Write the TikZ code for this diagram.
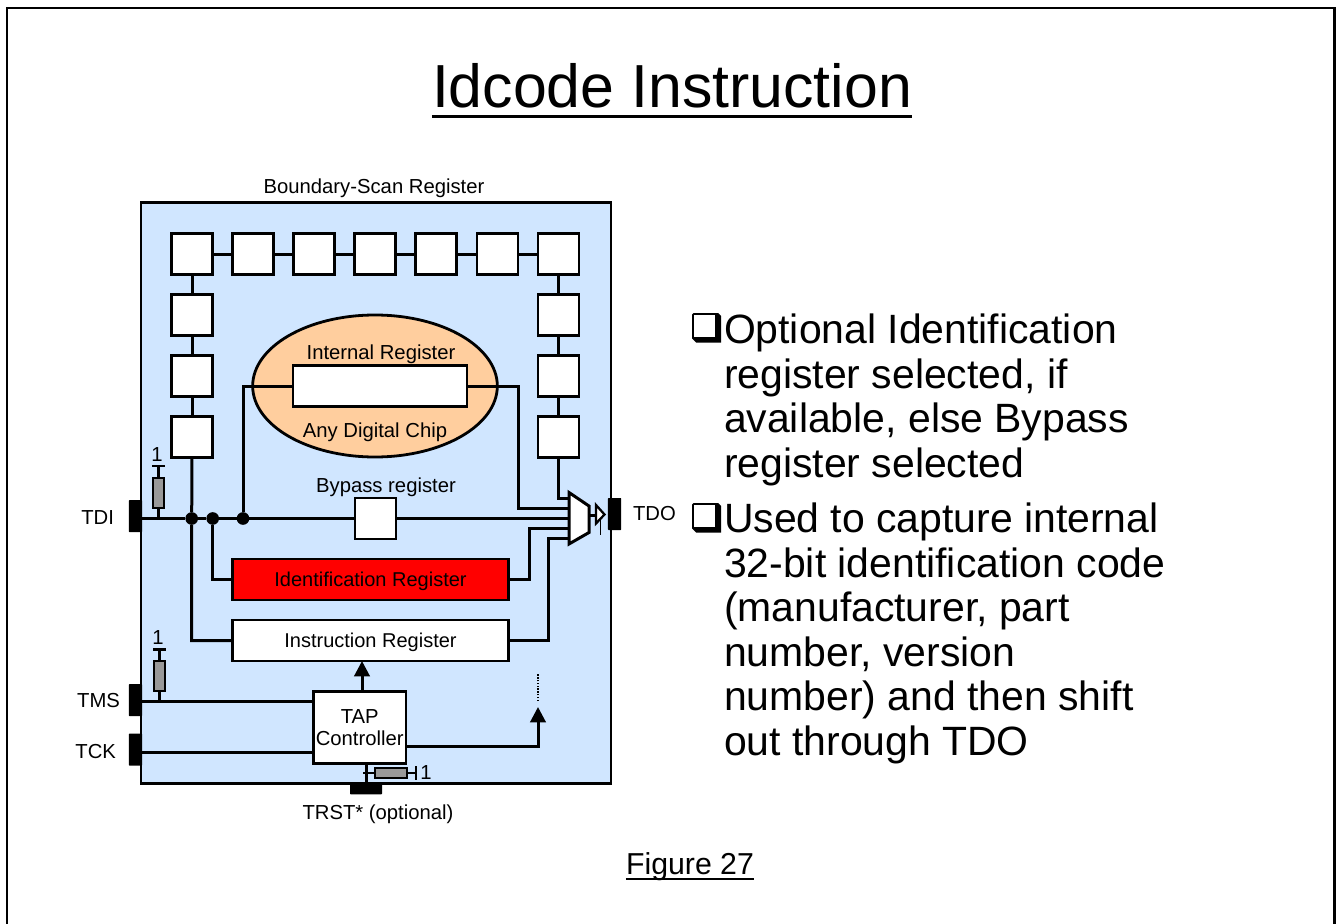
\documentclass[tikz,border=0pt]{standalone}
\usepackage{fontspec}
\setmainfont{Liberation Sans}
\usetikzlibrary{arrows.meta,shapes.geometric}
\definecolor{chipblue}{HTML}{D0E6FF}
\definecolor{chiporange}{HTML}{FFCE9E}
\definecolor{resgray}{HTML}{999999}
\tikzset{
  x=0.75pt,y=-0.75pt,
  wire/.style={line width=2.25pt,line join=miter},
  thin wire/.style={line width=1.7pt},
  cell/.style={draw,line width=2.1pt,fill=white,minimum width=30.75pt,minimum height=30.75pt,inner sep=0pt,outer sep=0pt},
  wide/.style={draw,line width=2.1pt,minimum width=207pt,minimum height=30.75pt,inner sep=0pt,outer sep=0pt,font=\fontsize{15}{18}\selectfont},
  pad/.style={fill=black,inner sep=0pt,outer sep=0pt,rounded corners=0.5pt},
  res/.style={draw,line width=1.6pt,fill=resgray,inner sep=0pt,outer sep=0pt},
  dot/.style={circle,fill=black,minimum size=9.5pt,inner sep=0pt,outer sep=0pt},
  small/.style={font=\fontsize{15.2}{18}\selectfont,inner sep=0pt,outer sep=0pt},
  bullet/.style={anchor=north west,inner sep=0pt,outer sep=0pt,align=left,font=\fontsize{30.7}{33.4}\selectfont},
  arrowed/.style={line width=2.25pt,-{Triangle[length=11.5pt,width=11.5pt]}},
  pics/shadowbox/.style={code={
    \fill[black] (0,1.5) -- (1.5,0) -- (26,0) -- (29,3) -- (29,29.5) -- (4,29.5) -- (0,25.5) -- cycle;
    \fill[white] (2,2) rectangle (23,24);
  }},
}
\newcommand{\boxtext}[1]{\smash{\raisebox{-5pt}{#1}}}
\begin{document}
\begin{tikzpicture}
\useasboundingbox (0,0) rectangle (1336,924);
% slide frame
\coordinate (fbl) at (7,924); \coordinate (ftl) at (7,8);
\coordinate (ftr) at (1334.5,8); \coordinate (fbr) at (1334.5,924);
\draw[line width=2.2pt] (fbl) -- (ftl) -- (ftr) -- (fbr);
% title
\node[anchor=base,inner sep=0pt,font=\fontsize{45.6}{50}\selectfont] (title) at (672,108) {Idcode Instruction};
\draw[line width=2.2pt] ([yshift=-6.5pt]title.base west) -- ([yshift=-6.5pt]title.base east);
% chip body
\node[draw,line width=2.1pt,fill=chipblue,minimum width=352.5pt,minimum height=435.75pt,inner sep=0pt,outer sep=0pt,anchor=north west] (chip) at (141,202.5) {};
\node[small,anchor=base] (bsr) at (374,193) {Boundary-Scan Register};
% boundary cells
\foreach \n/\x/\y in {a/192/254,b/253/254,c/314/254,d/375/254,e/436/254,f/497.5/254,g/558.5/254,
  h/192/315,i/192/376,j/192/437,k/558.5/315,l/558.5/376,m/558.5/437}
  \node[cell] (\n) at (\x,\y) {};
\draw[wire] (a)--(b) (b)--(c) (c)--(d) (d)--(e) (e)--(f) (f)--(g);
\draw[wire] (a)--(h) (h)--(i) (i)--(j) (g)--(k) (k)--(l) (l)--(m);
% internal chip
\node[draw,line width=2.1pt,fill=chiporange,ellipse,minimum width=183.5pt,minimum height=106.5pt,inner sep=0pt,outer sep=0pt] (chipell) at (375,386) {};
\node[draw,line width=2.1pt,fill=white,minimum width=130.5pt,minimum height=30.75pt,inner sep=0pt,outer sep=0pt] (ireg) at (380,386) {};
\node[small,anchor=base] (il) at (381,359) {Internal Register};
\node[small,anchor=base] (ac) at (375,437) {Any Digital Chip};
% bypass, id, instruction
\node[cell] (byp) at (375.5,518.5) {};
\node[small,anchor=base] (bl) at (386,492) {Bypass register};
\node[wide,fill=red] (idr) at (370.5,579.5) {\boxtext{Identification Register}};
\node[wide,fill=white] (inr) at (370.5,640.5) {\boxtext{Instruction Register}};
\node[draw,line width=2.1pt,fill=white,minimum width=69.5pt,minimum height=53.5pt,inner sep=0pt,outer sep=0pt,align=center,font=\fontsize{15.2}{20}\selectfont] (tap) at (359.75,727.5) {TAP\\[-3.5pt]Controller};
% pads
\node[pad,minimum width=10pt,minimum height=24pt] (tdi) at (135.5,516) {};
\node[pad,minimum width=10pt,minimum height=24pt] (tdo) at (614.5,514) {};
\node[pad,minimum width=10pt,minimum height=24pt] (tms) at (135.5,700) {};
\node[pad,minimum width=10pt,minimum height=24pt] (tck) at (135.5,749.5) {};
\node[pad,minimum width=24pt,minimum height=8pt] (trst) at (366,789) {};
\node[small,anchor=east] (ltdi) at (114,518) {TDI};
\node[small,anchor=west] (ltdo) at (633,514) {TDO};
\node[small,anchor=east] (ltms) at (120,701) {TMS};
\node[small,anchor=east] (ltck) at (116,752) {TCK};
\node[small,anchor=base] (ltrst) at (378,819) {TRST* (optional)};
% mux
\coordinate (m1) at (569,498); \coordinate (m2) at (569,508); \coordinate (m3) at (569,518.5);
\coordinate (m4) at (569,528.5); \coordinate (m5) at (569,538.5); \coordinate (mo) at (589,515);
\coordinate (bufl) at (596,515); \coordinate (bufr) at (608,515);
% junctions
\node[dot] (d1) at (191.7,518.5) {};
\node[dot] (d2) at (212.7,518.5) {};
\node[dot] (d3) at (243,518.5) {};
% wires
\draw[wire] (tdi.east |- d1) -- (d1) -- (d2) -- (d3) -- (byp) -- (m3);
\draw[wire] (j) -- (d1) -- (d1 |- inr) -- (inr.west);
\draw[wire] (d2) -- (d2 |- idr) -- (idr.west);
\draw[wire] (d3) |- (ireg.west);
\draw[wire] (ireg.east) -| (518,508) -- (m2);
\draw[wire] (m) -- (m.south |- m1) -- (m1);
\draw[wire] (idr.east) -| (529,528.5) -- (m4);
\draw[wire] (inr.east) -| (548,538.5) -- (m5);
\draw[wire] (mo) -- (bufl) (tdo.west |- bufl) -- (bufr);
\draw[wire,fill=white] (569,492.5) -- (589,506) -- (589,532.5) -- (569,544) -- cycle;
\draw[thin wire,fill=white] (596,505) -- (604.5,514.5) -- (596,523.5) -- cycle;
\draw[line width=0.9pt] (600.5,519) -- (600.5,534.5);
% resistors
\node[res,minimum width=8.5pt,minimum height=23pt] (r1) at (158.5,493) {};
\coordinate (r1t) at (158.5,466);
\draw[wire] (r1.south) -- (r1.south |- d1);
\draw[thin wire] (r1.north) -- (r1t) (152,466) -- (165,466);
\node[small] (l1) at (157,454.5) {1};
\node[res,minimum width=8.5pt,minimum height=23pt] (r2) at (159.5,676) {};
\coordinate (r2t) at (159.5,649.5);
\draw[thin wire] (r2.north) -- (r2t) (153,649.5) -- (166,649.5);
\node[small] (l2) at (158,637.5) {1};
\node[res,minimum width=24pt,minimum height=8pt] (r3) at (391,773) {};
% TAP wires
\draw[wire] (tms.east |- 0,701) -- (tap.west |- 0,701);
\draw[wire] (r2.south) -- (r2.south |- 0,701);
\draw[wire] (tck.east |- 0,752) -- (tap.west |- 0,752);
\draw[arrowed] (tap.north -| 362,0) -- (inr.south -| 362,0);
\coordinate (upper) at (538,707);
\draw[arrowed] (tap.east |- 0,746) -| (upper);
\coordinate (dt) at (538,701); \coordinate (dt2) at (538,674);
\draw[line width=1.1pt,densely dotted] (dt) -- (dt2);
\draw[wire] (tap.south -| trst) -- (trst);
\draw[thin wire] (363,773) -- (r3.west) (r3.east) -- (416,773) (416,766) -- (416,780);
\node[small] (l3) at (426,773) {1};
% figure caption
\node[anchor=base,inner sep=0pt,font=\fontsize{22.7}{26}\selectfont] (fig) at (690,874) {Figure 27};
\draw[line width=1.4pt] ([yshift=-3.5pt]fig.base west) -- ([yshift=-3.5pt]fig.base east);
% bullets
\pic at (692,313) {shadowbox};
\node[bullet] (t1) at (724,314) {Optional Identification\\register selected, if\\available, else Bypass\\register selected};
\pic at (692,503) {shadowbox};
\node[bullet] (t2) at (724,503) {Used to capture internal\\32-bit identification code\\(manufacturer, part\\number, version\\number) and then shift\\out through TDO};
\end{tikzpicture}
\end{document}
